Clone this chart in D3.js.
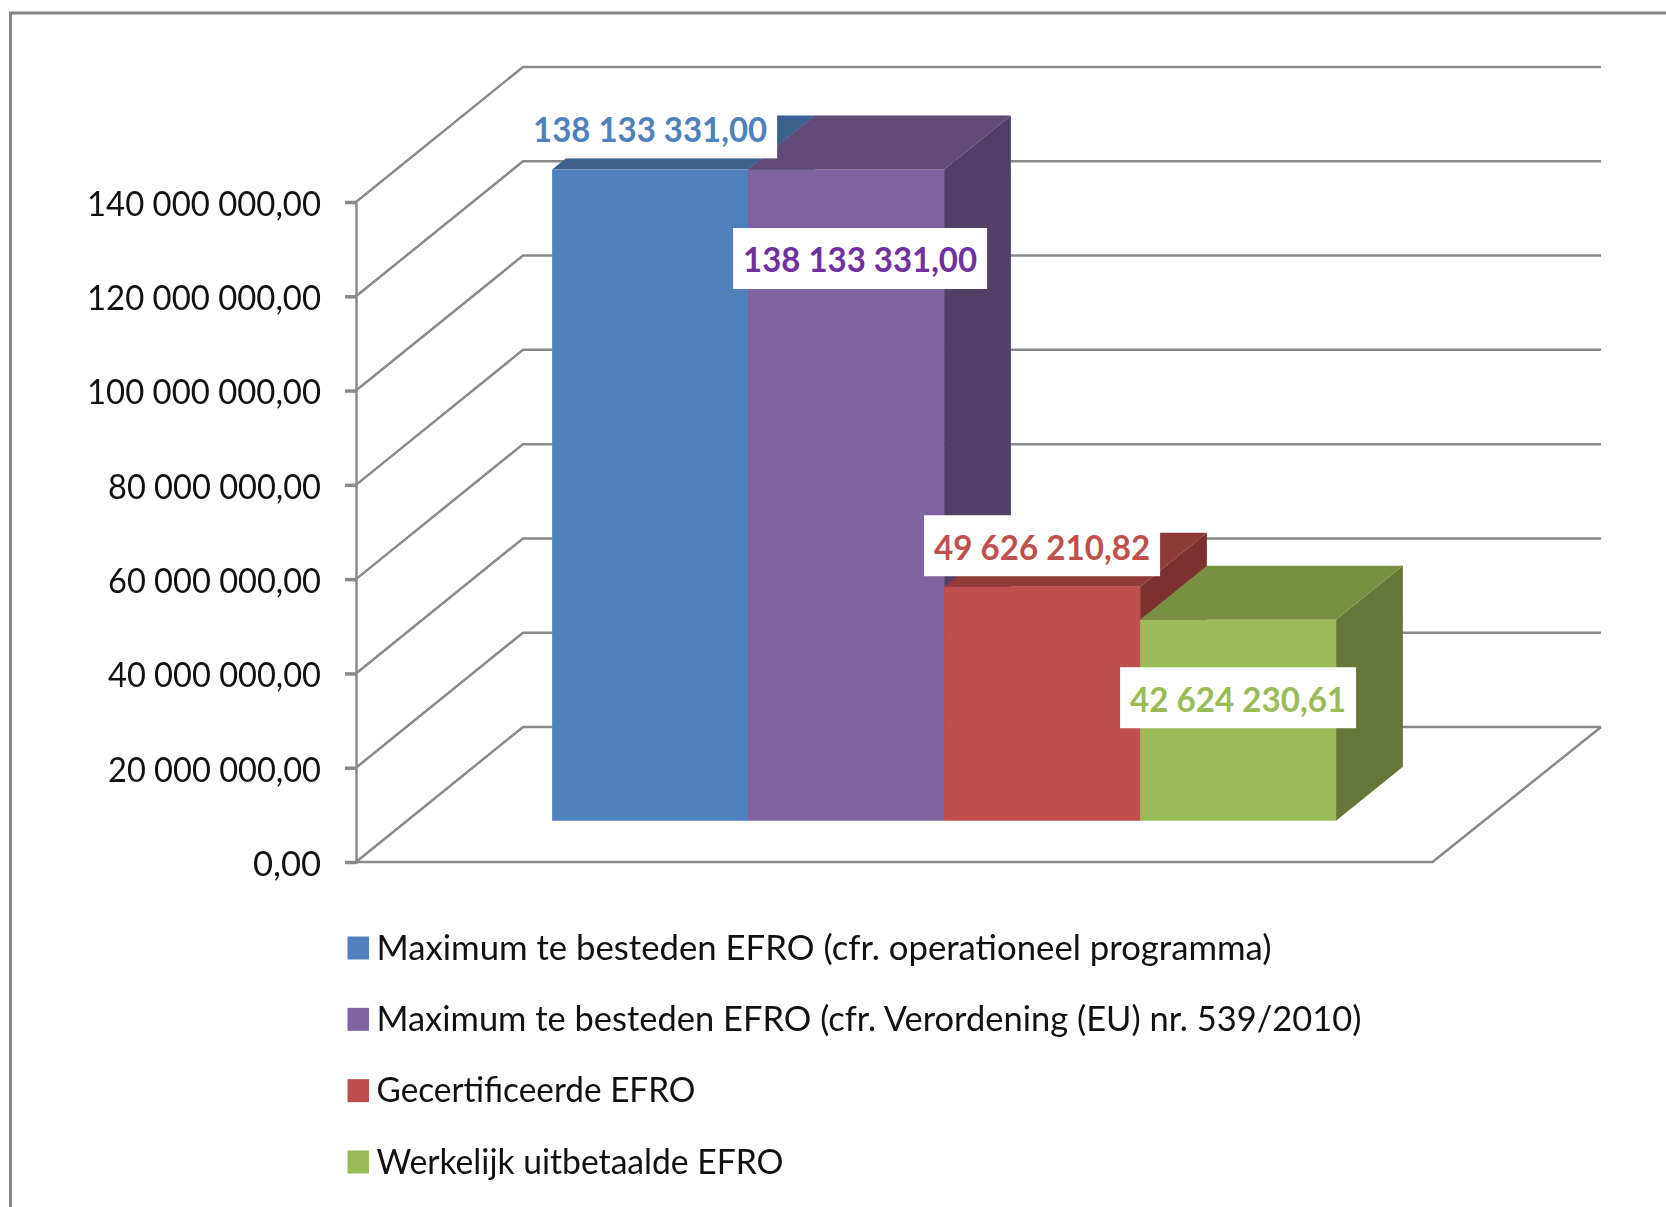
<!DOCTYPE html>
<html>
<head>
<meta charset="utf-8">
<title>EFRO</title>
<style>
  body { margin: 0; background: #fff; }
  svg { display: block; filter: blur(0.6px); }
  text { font-family: Lato, "Open Sans", sans-serif; }
</style>
</head>
<body>
<svg width="1666" height="1207"></svg>
<script src="https://cdnjs.cloudflare.com/ajax/libs/d3/7.8.5/d3.min.js"></script>
<script>
// data
var seriesNames = [
  "Maximum te besteden EFRO (cfr. operationeel programma)",
  "Maximum te besteden EFRO (cfr. Verordening (EU) nr. 539/2010)",
  "Gecertificeerde EFRO",
  "Werkelijk uitbetaalde EFRO"
];
var seriesValues = [138133331.00, 138133331.00, 49626210.82, 42624230.61];
var valueLabels = ["138 133 331,00", "138 133 331,00", "49 626 210,82", "42 624 230,61"];
var tickValues = [0, 20000000, 40000000, 60000000, 80000000, 100000000, 120000000, 140000000];
var tickLabels = ["0,00", "20 000 000,00", "40 000 000,00", "60 000 000,00", "80 000 000,00", "100 000 000,00", "120 000 000,00", "140 000 000,00"];

// styles per series
var frontColors = ["#4f81bd", "#8064a2", "#c0504d", "#9bbb59"];
var topColors = ["#3c618f", "#614b78", "#8e3b39", "#799042"];
var sideColors = ["#34557d", "#523f66", "#7d312e", "#657837"];
var labelColors = ["#4f81bd", "#7030a0", "#c0504d", "#9bbb59"];
var labelOffsets = [[0, -41.6], [14, 89], [0, -41], [0, 78]];
var labelWidths = [254, 254, 236, 236];

var gridColor = "#8a8a8a";
var svg = d3.select("svg");

var y = d3.scaleLinear().domain([0, 140000000]).range([862, 202]);
var x = d3.scaleBand().domain(seriesNames).range([355, 1431]).paddingInner(0).paddingOuter(0.745);

// depth into the chart, 0 = front of the floor, 1 = back wall
var depthX = d3.scaleLinear().domain([0, 1]).range([0, 167]);
var depthY = d3.scaleLinear().domain([0, 1]).range([0, -135]);
var barDepth = [0.306, 0.706];

function pt(px, value, depth) {
  return [px + depthX(depth), y(value) + depthY(depth)];
}
var line = d3.line();

// outer frame
svg.append("path")
  .attr("d", line([[10.5, 1207], [10.5, 13], [1666, 13]]))
  .attr("fill", "none").attr("stroke", "#868686").attr("stroke-width", 3);

// walls
var g = svg.append("g").attr("fill", "none").attr("stroke", gridColor).attr("stroke-width", 2.5);
tickValues.forEach(function(d) {
  g.append("path").attr("d", line([pt(356, d, 0), pt(356, d, 1), pt(1434, d, 1)]));
});
g.append("path").attr("d", line([pt(356, 0, 0), pt(1432.5, 0, 0), pt(1434, 0, 1)]));

// y axis
var yAxis = d3.axisLeft(y)
  .tickValues(tickValues)
  .tickFormat(function(d, i) { return tickLabels[i]; })
  .tickSize(11)
  .tickPadding(24);
var axisG = svg.append("g").attr("transform", "translate(356,0)").call(yAxis);
axisG.select(".domain").attr("stroke", gridColor).attr("stroke-width", 2.5);
axisG.selectAll(".tick line").attr("stroke", gridColor).attr("stroke-width", 3.5);
axisG.selectAll(".tick text")
  .attr("font-family", "Lato")
  .attr("font-size", 35)
  .attr("fill", "#111")
  .attr("dy", "0.38em")
  .attr("lengthAdjust", "spacingAndGlyphs")
  .attr("textLength", function(d, i) { return i === 0 ? 68 : (d >= 100000000 ? 234 : 213); });

// bars, left to right so each covers the side of the previous one
var bars = svg.selectAll(".bar").data(seriesNames).enter().append("g").attr("class", "bar");
bars.append("path")
  .attr("fill", function(d, i) { return sideColors[i]; })
  .attr("d", function(d, i) {
    var r = x(d) + x.bandwidth();
    return line([pt(r, 0, barDepth[0]), pt(r, 0, barDepth[1]), pt(r, seriesValues[i], barDepth[1]), pt(r, seriesValues[i], barDepth[0])]) + "Z";
  });
bars.append("path")
  .attr("fill", function(d, i) { return topColors[i]; })
  .attr("d", function(d, i) {
    var l = x(d), r = l + x.bandwidth(), v = seriesValues[i];
    return line([pt(l, v, barDepth[0]), pt(l, v, barDepth[1]), pt(r, v, barDepth[1]), pt(r, v, barDepth[0])]) + "Z";
  });
bars.append("path")
  .attr("fill", function(d, i) { return frontColors[i]; })
  .attr("d", function(d, i) {
    var l = x(d), r = l + x.bandwidth(), v = seriesValues[i];
    return line([pt(l, 0, barDepth[0]), pt(l, v, barDepth[0]), pt(r, v, barDepth[0]), pt(r, 0, barDepth[0])]) + "Z";
  });

// value labels on white boxes
var labels = svg.selectAll(".value-label").data(seriesNames).enter().append("g")
  .attr("class", "value-label")
  .attr("transform", function(d, i) {
    var p = pt(x(d) + x.bandwidth() / 2, seriesValues[i], barDepth[0]);
    return "translate(" + (p[0] + labelOffsets[i][0]) + "," + (p[1] + labelOffsets[i][1]) + ")";
  });
labels.append("rect")
  .attr("x", function(d, i) { return -labelWidths[i] / 2; })
  .attr("y", -30.5)
  .attr("width", function(d, i) { return labelWidths[i]; })
  .attr("height", 61)
  .attr("fill", "#fff");
labels.append("text")
  .attr("text-anchor", "middle")
  .attr("dy", "0.4em")
  .attr("font-size", 35)
  .attr("font-weight", 700)
  .attr("fill", function(d, i) { return labelColors[i]; })
  .attr("lengthAdjust", "spacingAndGlyphs")
  .attr("textLength", function(d, i) { return labelWidths[i] - 20; })
  .text(function(d, i) { return valueLabels[i]; });

// legend
var legendRow = d3.scalePoint().domain(seriesNames).range([948, 1162]);
var legendWidths = [895, 985, 319, 407];
var legend = svg.selectAll(".legend").data(seriesNames).enter().append("g")
  .attr("class", "legend")
  .attr("transform", function(d) { return "translate(347.5," + legendRow(d) + ")"; });
legend.append("rect")
  .attr("y", -11.5).attr("width", 21.5).attr("height", 23)
  .attr("fill", function(d, i) { return frontColors[i]; });
legend.append("text")
  .attr("x", 29)
  .attr("dy", "0.33em")
  .attr("font-size", 35)
  .attr("fill", "#111")
  .attr("lengthAdjust", "spacingAndGlyphs")
  .attr("textLength", function(d, i) { return legendWidths[i]; })
  .text(function(d) { return d; });
</script>
</body>
</html>
